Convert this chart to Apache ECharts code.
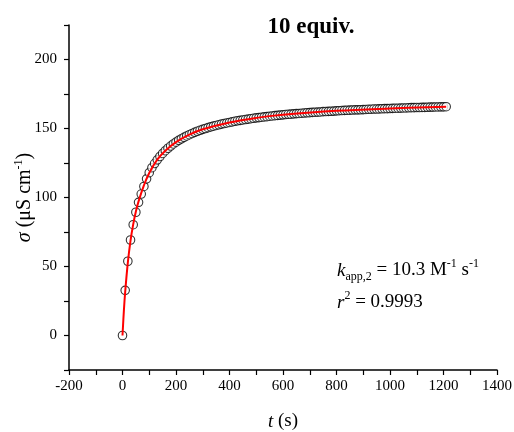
<!DOCTYPE html>
<html>
<head>
<meta charset="utf-8">
<title>10 equiv.</title>
<script src="https://cdn.jsdelivr.net/npm/echarts@6/dist/echarts.min.js"></script>
<style>
  html, body { margin: 0; padding: 0; background: #fff; }
  #chart { width: 514px; height: 432px; }
</style>
</head>
<body>
<div id="chart"></div>
<script>
// measured conductivity, one point every 10 s
const times = [
  0, 10, 20, 30, 40, 50, 60, 70, 80, 90,
  100, 110, 120, 130, 140, 150, 160, 170, 180, 190,
  200, 210, 220, 230, 240, 250, 260, 270, 280, 290,
  300, 310, 320, 330, 340, 350, 360, 370, 380, 390,
  400, 410, 420, 430, 440, 450, 460, 470, 480, 490,
  500, 510, 520, 530, 540, 550, 560, 570, 580, 590,
  600, 610, 620, 630, 640, 650, 660, 670, 680, 690,
  700, 710, 720, 730, 740, 750, 760, 770, 780, 790,
  800, 810, 820, 830, 840, 850, 860, 870, 880, 890,
  900, 910, 920, 930, 940, 950, 960, 970, 980, 990,
  1000, 1010, 1020, 1030, 1040, 1050, 1060, 1070, 1080, 1090,
  1100, 1110, 1120, 1130, 1140, 1150, 1160, 1170, 1180, 1190,
  1200, 1210
]
const sigma = [
  0, 32.7, 53.8, 69.2, 80.3, 89.3, 96.5, 102.5, 108.0, 113.5,
  118.0, 121.6, 124.6, 127.3, 129.7, 131.9, 133.9, 135.7, 137.3, 138.8,
  140.1, 141.4, 142.5, 143.6, 144.6, 145.5, 146.4, 147.2, 148.0, 148.7,
  149.4, 150.0, 150.6, 151.2, 151.7, 152.2, 152.7, 153.2, 153.6, 154.0,
  154.4, 154.8, 155.2, 155.6, 155.9, 156.2, 156.5, 156.8, 157.1, 157.4,
  157.7, 157.9, 158.2, 158.4, 158.6, 158.9, 159.1, 159.3, 159.5, 159.7,
  159.9, 160.1, 160.3, 160.4, 160.6, 160.8, 160.9, 161.1, 161.2, 161.4,
  161.5, 161.7, 161.8, 161.9, 162.0, 162.2, 162.3, 162.4, 162.5, 162.6,
  162.8, 162.9, 163.0, 163.1, 163.2, 163.3, 163.4, 163.5, 163.5, 163.6,
  163.7, 163.8, 163.9, 164.0, 164.1, 164.1, 164.2, 164.3, 164.4, 164.4,
  164.5, 164.6, 164.7, 164.7, 164.8, 164.9, 164.9, 165.0, 165.1, 165.1,
  165.2, 165.2, 165.3, 165.3, 165.4, 165.5, 165.5, 165.6, 165.6, 165.7,
  165.7, 165.8
]

// fitted curve
const fitTimes = [0, 5, 10, 20, 30, 40, 50, 60, 80, 100, 130, 160, 200, 250, 300, 400, 500, 600, 800, 1000, 1210]
const fitSigma = [0, 17.5, 31.5, 53.0, 68.8, 80.5, 89.8, 97.2, 108.8, 117.8, 127.4, 133.9, 140.1, 145.5, 149.4, 154.4, 157.7, 159.9, 162.8, 164.5, 165.8]

const xTicks = [-200, 0, 200, 400, 600, 800, 1000, 1200, 1400]
const yTicks = [0, 50, 100, 150, 200]

const serif = '"Liberation Serif", "DejaVu Serif", serif'

const chart = echarts.init(document.getElementById('chart'))

const option = {
  animation: false,
  backgroundColor: '#fff',
  title: {
    text: '10 equiv.',
    left: 306,
    top: 11,
    textAlign: 'center',
    textStyle: { fontFamily: serif, fontSize: 23, fontWeight: 'bold', color: '#000' }
  },
  grid: { left: 69, right: 17, top: 25, bottom: 62, outerBoundsMode: 'none', containLabel: false },
  xAxis: {
    type: 'value',
    min: -200,
    max: 1400,
    interval: 100,
    name: '{i|t} (s)',
    nameLocation: 'middle',
    nameGap: 42,
    nameMoveOverlap: false,
    nameTextStyle: {
      fontFamily: serif, fontSize: 19, color: '#000',
      rich: { i: { fontFamily: serif, fontSize: 19, fontStyle: 'italic', color: '#000' } }
    },
    axisLine: { onZero: false, lineStyle: { color: '#000', width: 1.5 } },
    axisTick: { inside: false, length: 5, lineStyle: { color: '#000', width: 1.2 } },
    axisLabel: {
      margin: 9,
      fontFamily: serif, fontSize: 15, color: '#000',
      formatter: v => xTicks.includes(v) ? String(v) : ''
    },
    splitLine: { show: false }
  },
  yAxis: {
    type: 'value',
    min: -25,
    max: 225,
    interval: 25,
    name: '{i|σ} (μS cm{sup|-1})',
    nameLocation: 'middle',
    nameGap: 32,
    nameMoveOverlap: false,
    nameTextStyle: {
      fontFamily: serif, fontSize: 20, color: '#000', lineHeight: 24,
      rich: {
        i: { fontFamily: serif, fontSize: 20, fontStyle: 'italic', color: '#000', lineHeight: 24 },
        sup: { fontFamily: serif, fontSize: 12, color: '#000', verticalAlign: 'top', lineHeight: 24 }
      }
    },
    axisLine: { onZero: false, lineStyle: { color: '#000', width: 1.5 } },
    axisTick: { inside: false, length: 5, lineStyle: { color: '#000', width: 1.2 } },
    axisLabel: {
      margin: 12,
      fontFamily: serif, fontSize: 15, color: '#000',
      formatter: v => yTicks.includes(v) ? String(v) : ''
    },
    splitLine: { show: false }
  },
  series: [
    {
      name: 'data',
      type: 'scatter',
      data: times.map((t, i) => [t, sigma[i]]),
      symbol: 'circle',
      symbolSize: 8.5,
      itemStyle: { color: '#fff', borderColor: '#000', borderWidth: 1.1 },
      z: 2
    },
    {
      name: 'fit',
      type: 'line',
      data: fitTimes.map((t, i) => [t, fitSigma[i]]),
      smooth: 0.4,
      showSymbol: false,
      lineStyle: { color: '#ff0000', width: 2 },
      z: 3
    }
  ],
  graphic: [
    {
      type: 'text',
      left: 337,
      top: 258,
      style: {
        text: '{i|k}{sub|app,2} = 10.3 M{sup|-1} s{sup|-1}',
        fontFamily: serif,
        fontSize: 19,
        fill: '#000',
        rich: {
          i: { fontFamily: serif, fontSize: 19, fontStyle: 'italic', lineHeight: 25, verticalAlign: 'middle' },
          sub: { fontFamily: serif, fontSize: 12, lineHeight: 25, verticalAlign: 'bottom' },
          sup: { fontFamily: serif, fontSize: 12, lineHeight: 25, verticalAlign: 'top' }
        }
      }
    },
    {
      type: 'text',
      left: 337,
      top: 290,
      style: {
        text: '{i|r}{sup|2} = 0.9993',
        fontFamily: serif,
        fontSize: 19,
        fill: '#000',
        rich: {
          i: { fontFamily: serif, fontSize: 19, fontStyle: 'italic', lineHeight: 25, verticalAlign: 'middle' },
          sup: { fontFamily: serif, fontSize: 12, lineHeight: 25, verticalAlign: 'top' }
        }
      }
    }
  ]
}

chart.setOption(option)
window.addEventListener('resize', () => chart.resize())
</script>
</body>
</html>
